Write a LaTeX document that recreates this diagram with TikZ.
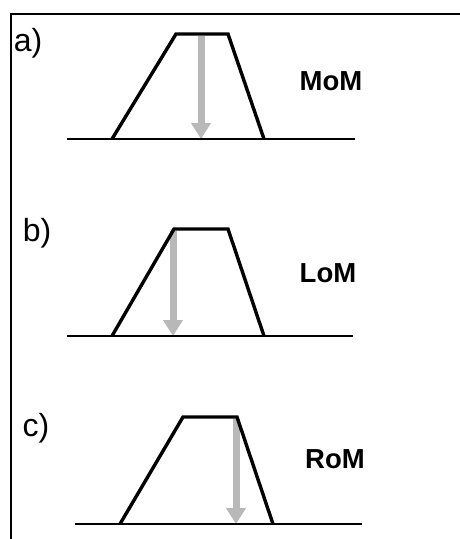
\documentclass[tikz,border=0pt]{standalone}
\usepackage{fontspec}
\setmainfont{Liberation Sans}
\usetikzlibrary{arrows.meta}

\tikzset{
  trap/.style={line width=3.4pt, line join=miter},
  ground/.style={line width=2.2pt},
  load/.style={draw=black!28, line width=7pt, -{Triangle[width=19pt,length=16pt]}},
  panel/.style={font=\fontsize{32}{34}\selectfont},
  tag/.style={font=\bfseries\fontsize{27.5}{30}\selectfont},
}

\begin{document}
\begin{tikzpicture}[x=1pt,y=-1pt]
  \useasboundingbox (0,0) rectangle (460,539);
  \draw[line width=2.2pt] (11,539) -- (11,14) -- (460,14);

  % a) middle
  \coordinate (loadA) at (201,36);
  \coordinate (footA) at (201,139);
  \draw[load] (loadA) -- (footA);
  \draw[ground] (67,139) -- (355,139);
  \draw[trap] (112,139) -- (176,34) -- (228,34) -- (264,139);
  \node[panel] (labA) at (28,43) {a)};
  \node[tag] (momA) at (331,81) {MoM};

  % b) left
  \coordinate (loadB) at (173,231);
  \coordinate (footB) at (173,336);
  \draw[load] (loadB) -- (footB);
  \draw[ground] (67,336) -- (353,336);
  \draw[trap] (112,336) -- (174,229) -- (228,229) -- (264,336);
  \node[panel] (labB) at (37,233) {b)};
  \node[tag] (lomB) at (328,273) {LoM};

  % c) right
  \coordinate (loadC) at (236,419);
  \coordinate (footC) at (236,524);
  \draw[load] (loadC) -- (footC);
  \draw[ground] (75,524) -- (362,524);
  \draw[trap] (120,524) -- (183,417) -- (237,417) -- (273,524);
  \node[panel] (labC) at (36,428) {c)};
  \node[tag] (romC) at (335,459) {RoM};
\end{tikzpicture}
\end{document}
